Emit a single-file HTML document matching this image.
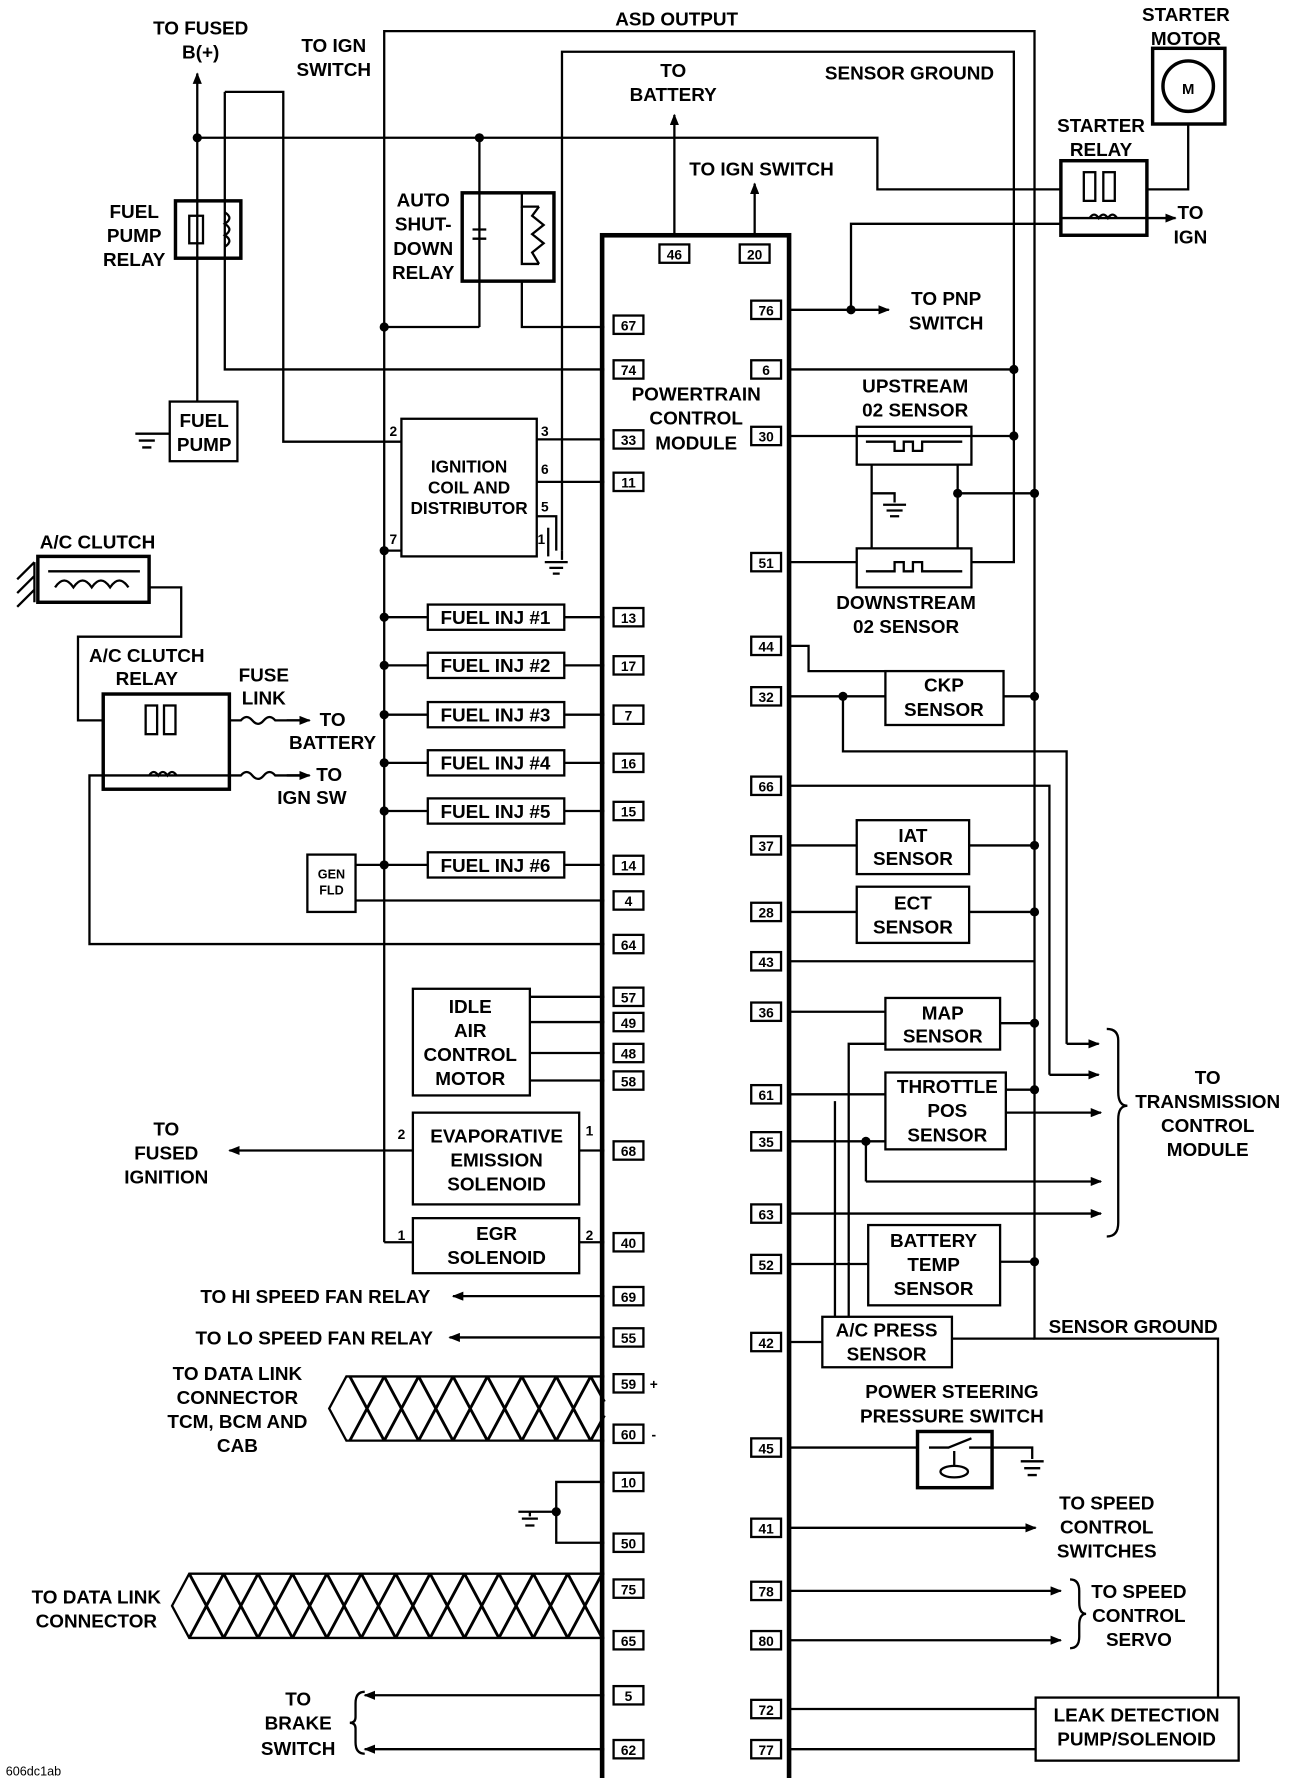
<!DOCTYPE html>
<html><head><meta charset="utf-8"><style>
html,body{margin:0;padding:0;background:#fff}
svg{display:block}
text{font-family:"Liberation Sans",sans-serif;font-weight:bold;fill:#000}
.t{font-size:16.5px;text-anchor:middle}
.p{font-size:12px;text-anchor:middle}
</style></head><body>
<svg width="1296" height="1778" viewBox="0 0 1130 1550" xmlns="http://www.w3.org/2000/svg">
<defs>
<marker id="a" markerWidth="10" markerHeight="8" refX="9" refY="4" orient="auto" markerUnits="userSpaceOnUse"><path d="M0,0 L10,4 L0,8 Z"/></marker>
</defs>
<g fill="none" stroke="#000" stroke-width="2">
<rect x="525" y="205" width="163" height="1353" stroke-width="4"/>
<polyline points="335,1083 335,27 902,27 902,1167 1062,1167 1062,1480"/>
<polyline points="490,480 490,45 884,45 884,490 847,490"/>
<line x1="172" y1="350" x2="172" y2="64" marker-end="url(#a)"/>
<polyline points="172,120 765,120 765,165 925,165"/>
<polyline points="196,80 247,80 247,385 350,385"/>
<polyline points="196,80 196,322 527,322"/>
<rect x="153" y="175" width="57" height="50" stroke-width="3"/>
<rect x="165" y="188" width="12" height="24"/><path d="M196,185 q8,5 0,10 q8,5 0,10 q8,5 0,10"/>
<rect x="148" y="350" width="59" height="52"/>
<path d="M148,378 H128 M118,378 h20 M121,384 h14 M124,390 h8"/>
<rect x="403" y="168" width="80" height="77" stroke-width="3"/>
<line x1="418" y1="120" x2="418" y2="285"/>
<polyline points="335,285 418,285"/>
<polyline points="455,168 455,180 470,180"/><polyline points="455,245 455,285 527,285"/>
<path d="M455,180 V230 H470 M470,180 l-6,8 l10,8 l-10,8 l10,8 l-10,8 l6,10 V230"/>
<path d="M412,200 h12 M412,208 h12"/>
<rect x="350" y="365" width="118" height="120"/>
<line x1="468" y1="383" x2="527" y2="383"/>
<line x1="468" y1="420" x2="527" y2="420"/>
<polyline points="468,450 485,450 485,480"/><line x1="478" y1="460" x2="478" y2="485"/>
<path d="M490,480 V488 M475,490 h20 M479,495 h12 M482,500 h6"/>
<line x1="335" y1="480" x2="350" y2="480"/>
<g>
<rect x="373" y="527" width="119" height="22"/><line x1="335" y1="538" x2="373" y2="538"/><line x1="492" y1="538" x2="527" y2="538"/>
<rect x="373" y="569" width="119" height="22"/><line x1="335" y1="580" x2="373" y2="580"/><line x1="492" y1="580" x2="527" y2="580"/>
<rect x="373" y="612" width="119" height="22"/><line x1="335" y1="623" x2="373" y2="623"/><line x1="492" y1="623" x2="527" y2="623"/>
<rect x="373" y="654" width="119" height="22"/><line x1="335" y1="665" x2="373" y2="665"/><line x1="492" y1="665" x2="527" y2="665"/>
<rect x="373" y="696" width="119" height="22"/><line x1="335" y1="707" x2="373" y2="707"/><line x1="492" y1="707" x2="527" y2="707"/>
<rect x="373" y="743" width="119" height="22"/><line x1="310" y1="754" x2="373" y2="754"/><line x1="492" y1="754" x2="527" y2="754"/>
</g>
<rect x="268" y="745" width="42" height="50"/>
<line x1="310" y1="785" x2="527" y2="785"/>
<rect x="33" y="485" width="97" height="40" stroke-width="3"/>
<path d="M42,498 h80 M48,512 q8,-12 16,0 q8,-12 16,0 q8,-12 16,0 q8,-12 16,0"/>
<path d="M30,490 l-15,15 M30,502 l-15,15 M30,514 l-15,15 M30,490 V525"/>
<polyline points="130,512 158,512 158,555 68,555 68,628 90,628"/>
<rect x="90" y="605" width="110" height="83" stroke-width="3"/>
<rect x="127" y="615" width="10" height="25"/><rect x="143" y="615" width="10" height="25"/>
<path d="M90,676 H200 M130,676 q4,-6 8,0 q4,-6 8,0 q4,-6 8,0"/>
<path d="M200,628 h10 q5,-6 10,0 q5,6 10,0 q5,-6 10,0 h25" /><line x1="250" y1="628" x2="270" y2="628" marker-end="url(#a)"/>
<path d="M200,676 h10 q5,-6 10,0 q5,6 10,0 q5,-6 10,0 h25"/><line x1="250" y1="676" x2="270" y2="676" marker-end="url(#a)"/>
<polyline points="90,676 78,676 78,823 527,823"/>
<rect x="360" y="862" width="102" height="93"/>
<line x1="462" y1="869" x2="527" y2="869"/><line x1="462" y1="891" x2="527" y2="891"/><line x1="462" y1="918" x2="527" y2="918"/><line x1="462" y1="942" x2="527" y2="942"/>
<rect x="360" y="970" width="145" height="80"/>
<line x1="505" y1="1003" x2="527" y2="1003"/>
<line x1="360" y1="1003" x2="200" y2="1003" marker-end="url(#a)"/>
<rect x="360" y="1062" width="145" height="48"/>
<line x1="335" y1="1083" x2="360" y2="1083"/><line x1="505" y1="1083" x2="527" y2="1083"/>
<line x1="527" y1="1130" x2="395" y2="1130" marker-end="url(#a)"/>
<line x1="527" y1="1166" x2="392" y2="1166" marker-end="url(#a)"/>
<polyline points="527,1292 485,1292 485,1345 527,1345"/>
<path d="M485,1318 H462 M452,1318 h20 M455,1324 h14 M458,1330 h8 M462,1318 V1322"/>
<line x1="527" y1="1478" x2="318" y2="1478" marker-end="url(#a)"/>
<line x1="527" y1="1525" x2="318" y2="1525" marker-end="url(#a)"/>
<path d="M318,1475 q-8,0 -8,10 v12 q0,5 -5,5 q5,0 5,5 v12 q0,10 8,10"/>
<line x1="588" y1="205" x2="588" y2="100" marker-end="url(#a)"/>
<line x1="658" y1="205" x2="658" y2="160" marker-end="url(#a)"/>
<rect x="1005" y="42" width="63" height="66" stroke-width="3"/>
<circle cx="1036" cy="75" r="22" stroke-width="3"/>
<polyline points="1036,108 1036,165 1000,165"/>
<rect x="925" y="140" width="75" height="65" stroke-width="3"/>
<rect x="945" y="150" width="10" height="25"/><rect x="962" y="150" width="10" height="25"/>
<path d="M925,190 H1000 M950,190 q4,-6 8,0 q4,-6 8,0 q4,-6 8,0"/>
<line x1="1000" y1="190" x2="1025" y2="190" marker-end="url(#a)"/>
<polyline points="925,195 742,195 742,270"/>
<line x1="688" y1="270" x2="775" y2="270" marker-end="url(#a)"/>
<line x1="688" y1="322" x2="884" y2="322"/>
<rect x="747" y="372" width="100" height="33"/>
<path d="M755,385 h25 v8 h8 v-8 h8 v8 h8 v-8 h35"/>
<line x1="688" y1="380" x2="884" y2="380"/>
<rect x="747" y="478" width="100" height="34"/>
<path d="M755,498 h25 v-8 h8 v8 h8 v-8 h8 v8 h35"/>
<line x1="688" y1="490" x2="747" y2="490"/>
<path d="M760,405 V478 M835,405 V478 M760,430 H780 V438 M770,440 h20 M773,445 h14 M776,450 h8 M835,430 H902"/>
<rect x="772" y="585" width="103" height="47"/>
<polyline points="688,563 705,563 705,585 772,585"/>
<line x1="688" y1="607" x2="772" y2="607"/>
<line x1="875" y1="607" x2="902" y2="607"/>
<polyline points="735,607 735,655 930,655 930,910"/><line x1="930" y1="910" x2="958" y2="910" marker-end="url(#a)"/>
<polyline points="688,685 915,685 915,937"/><line x1="915" y1="937" x2="958" y2="937" marker-end="url(#a)"/>
<rect x="747" y="715" width="98" height="47"/><line x1="688" y1="737" x2="747" y2="737"/><line x1="845" y1="737" x2="902" y2="737"/>
<rect x="747" y="773" width="98" height="49"/><line x1="688" y1="795" x2="747" y2="795"/><line x1="845" y1="795" x2="902" y2="795"/>
<line x1="688" y1="838" x2="902" y2="838"/>
<rect x="772" y="870" width="100" height="45"/><line x1="688" y1="882" x2="772" y2="882"/><line x1="872" y1="892" x2="902" y2="892"/>
<polyline points="772,910 740,910 740,1100"/>
<rect x="772" y="935" width="105" height="67"/>
<line x1="688" y1="954" x2="772" y2="954"/><line x1="877" y1="950" x2="902" y2="950"/>
<line x1="688" y1="995" x2="772" y2="995"/>
<line x1="877" y1="970" x2="960" y2="970" marker-end="url(#a)"/>
<polyline points="755,995 755,1030"/><line x1="755" y1="1030" x2="960" y2="1030" marker-end="url(#a)"/>
<line x1="688" y1="1058" x2="960" y2="1058" marker-end="url(#a)"/>
<path d="M965,897 q10,0 10,10 v45 q0,12 8,12 q-8,0 -8,12 v90 q0,12 -10,12"/>
<rect x="757" y="1068" width="115" height="70"/><line x1="688" y1="1102" x2="757" y2="1102"/><line x1="872" y1="1100" x2="902" y2="1100"/>
<polyline points="740,1100 740,1148"/>
<polyline points="728,1148 728,960"/>
<rect x="717" y="1148" width="113" height="44"/><line x1="688" y1="1170" x2="717" y2="1170"/><line x1="830" y1="1167" x2="902" y2="1167"/>
<rect x="800" y="1248" width="65" height="49" stroke-width="3"/>
<path d="M810,1262 H827 l20,-8 M845,1262 h20 M832,1265 v12 M820,1283 a12,5 0 1,0 24,0 a12,5 0 1,0 -24,0"/>
<line x1="688" y1="1262" x2="800" y2="1262"/>
<path d="M865,1262 H900 V1272 M890,1274 h20 M893,1280 h14 M896,1286 h8"/>
<line x1="688" y1="1332" x2="903" y2="1332" marker-end="url(#a)"/>
<line x1="688" y1="1387" x2="925" y2="1387" marker-end="url(#a)"/>
<line x1="688" y1="1430" x2="925" y2="1430" marker-end="url(#a)"/>
<path d="M933,1377 q8,0 8,10 v10 q0,10 6,10 q-6,0 -6,10 v10 q0,10 -8,10"/>
<rect x="903" y="1480" width="177" height="55"/>
<line x1="688" y1="1490" x2="903" y2="1490"/><line x1="688" y1="1525" x2="903" y2="1525"/>
</g>
<g fill="none" stroke="#000" stroke-width="2">
<path d="M527,1200 H302 L287,1228 L302,1256 H527"/>
<path d="M527,1372 H165 L150,1400 L165,1428 H527"/>
</g>
<g stroke="#000" stroke-width="2.5">
<path d="M305,1200 L335,1256 M335,1200 L365,1256 M365,1200 L395,1256 M395,1200 L425,1256 M425,1200 L455,1256 M455,1200 L485,1256 M485,1200 L515,1256 M515,1200 L527,1222 M305,1256 L335,1200 M335,1256 L365,1200 M365,1256 L395,1200 M395,1256 L425,1200 M425,1256 L455,1200 M455,1256 L485,1200 M485,1256 L515,1200 M515,1256 L527,1234"/>
<path d="M165,1372 L195,1428 M195,1372 L225,1428 M225,1372 L255,1428 M255,1372 L285,1428 M285,1372 L315,1428 M315,1372 L345,1428 M345,1372 L375,1428 M375,1372 L405,1428 M405,1372 L435,1428 M435,1372 L465,1428 M465,1372 L495,1428 M495,1372 L525,1428 M165,1428 L195,1372 M195,1428 L225,1372 M225,1428 L255,1372 M255,1428 L285,1372 M285,1428 L315,1372 M315,1428 L345,1372 M345,1428 L375,1372 M375,1428 L405,1372 M405,1428 L435,1372 M435,1428 L465,1372 M465,1428 L495,1372 M495,1428 L525,1372"/>
</g>
<g fill="#000">
<circle cx="172" cy="120" r="4"/><circle cx="418" cy="120" r="4"/><circle cx="335" cy="285" r="4"/><circle cx="335" cy="480" r="4"/>
<circle cx="335" cy="538" r="4"/><circle cx="335" cy="580" r="4"/><circle cx="335" cy="623" r="4"/><circle cx="335" cy="665" r="4"/><circle cx="335" cy="707" r="4"/><circle cx="335" cy="754" r="4"/>
<circle cx="485" cy="1318" r="4"/><circle cx="742" cy="270" r="4"/><circle cx="884" cy="322" r="4"/><circle cx="884" cy="380" r="4"/><circle cx="835" cy="430" r="4"/><circle cx="902" cy="430" r="4"/>
<circle cx="735" cy="607" r="4"/><circle cx="902" cy="607" r="4"/><circle cx="902" cy="737" r="4"/><circle cx="902" cy="795" r="4"/><circle cx="902" cy="892" r="4"/><circle cx="902" cy="950" r="4"/><circle cx="902" cy="1100" r="4"/><circle cx="755" cy="995" r="4"/>
</g>
<g fill="#fff" stroke="#000" stroke-width="2">
<rect x="575" y="213" width="26" height="16"/><rect x="645" y="213" width="26" height="16"/>
<rect x="535" y="275" width="26" height="16"/><rect x="535" y="314" width="26" height="16"/><rect x="535" y="375" width="26" height="16"/><rect x="535" y="412" width="26" height="16"/>
<rect x="535" y="530" width="26" height="16"/><rect x="535" y="572" width="26" height="16"/><rect x="535" y="615" width="26" height="16"/><rect x="535" y="657" width="26" height="16"/><rect x="535" y="699" width="26" height="16"/><rect x="535" y="746" width="26" height="16"/><rect x="535" y="777" width="26" height="16"/><rect x="535" y="815" width="26" height="16"/>
<rect x="535" y="861" width="26" height="16"/><rect x="535" y="883" width="26" height="16"/><rect x="535" y="910" width="26" height="16"/><rect x="535" y="934" width="26" height="16"/><rect x="535" y="995" width="26" height="16"/><rect x="535" y="1075" width="26" height="16"/><rect x="535" y="1122" width="26" height="16"/><rect x="535" y="1158" width="26" height="16"/><rect x="535" y="1198" width="26" height="16"/><rect x="535" y="1242" width="26" height="16"/><rect x="535" y="1284" width="26" height="16"/><rect x="535" y="1337" width="26" height="16"/><rect x="535" y="1377" width="26" height="16"/><rect x="535" y="1422" width="26" height="16"/><rect x="535" y="1470" width="26" height="16"/><rect x="535" y="1517" width="26" height="16"/>
<rect x="655" y="262" width="26" height="16"/><rect x="655" y="314" width="26" height="16"/><rect x="655" y="372" width="26" height="16"/><rect x="655" y="482" width="26" height="16"/><rect x="655" y="555" width="26" height="16"/><rect x="655" y="599" width="26" height="16"/><rect x="655" y="677" width="26" height="16"/><rect x="655" y="729" width="26" height="16"/><rect x="655" y="787" width="26" height="16"/><rect x="655" y="830" width="26" height="16"/><rect x="655" y="874" width="26" height="16"/><rect x="655" y="946" width="26" height="16"/><rect x="655" y="987" width="26" height="16"/><rect x="655" y="1050" width="26" height="16"/><rect x="655" y="1094" width="26" height="16"/><rect x="655" y="1162" width="26" height="16"/><rect x="655" y="1254" width="26" height="16"/><rect x="655" y="1324" width="26" height="16"/><rect x="655" y="1379" width="26" height="16"/><rect x="655" y="1422" width="26" height="16"/><rect x="655" y="1482" width="26" height="16"/><rect x="655" y="1517" width="26" height="16"/>
</g>
<g class="p">
<text class="p" x="588" y="226">46</text><text class="p" x="658" y="226">20</text>
<text class="p" x="548" y="288">67</text><text class="p" x="548" y="327">74</text><text class="p" x="548" y="388">33</text><text class="p" x="548" y="425">11</text>
<text class="p" x="548" y="543">13</text><text class="p" x="548" y="585">17</text><text class="p" x="548" y="628">7</text><text class="p" x="548" y="670">16</text><text class="p" x="548" y="712">15</text><text class="p" x="548" y="759">14</text><text class="p" x="548" y="790">4</text><text class="p" x="548" y="828">64</text>
<text class="p" x="548" y="874">57</text><text class="p" x="548" y="896">49</text><text class="p" x="548" y="923">48</text><text class="p" x="548" y="947">58</text><text class="p" x="548" y="1008">68</text><text class="p" x="548" y="1088">40</text><text class="p" x="548" y="1135">69</text><text class="p" x="548" y="1171">55</text><text class="p" x="548" y="1211">59</text><text class="p" x="548" y="1255">60</text><text class="p" x="548" y="1297">10</text><text class="p" x="548" y="1350">50</text><text class="p" x="548" y="1390">75</text><text class="p" x="548" y="1435">65</text><text class="p" x="548" y="1483">5</text><text class="p" x="548" y="1530">62</text>
<text class="p" x="668" y="275">76</text><text class="p" x="668" y="327">6</text><text class="p" x="668" y="385">30</text><text class="p" x="668" y="495">51</text><text class="p" x="668" y="568">44</text><text class="p" x="668" y="612">32</text><text class="p" x="668" y="690">66</text><text class="p" x="668" y="742">37</text><text class="p" x="668" y="800">28</text><text class="p" x="668" y="843">43</text><text class="p" x="668" y="887">36</text><text class="p" x="668" y="959">61</text><text class="p" x="668" y="1000">35</text><text class="p" x="668" y="1063">63</text><text class="p" x="668" y="1107">52</text><text class="p" x="668" y="1175">42</text><text class="p" x="668" y="1267">45</text><text class="p" x="668" y="1337">41</text><text class="p" x="668" y="1392">78</text><text class="p" x="668" y="1435">80</text><text class="p" x="668" y="1495">72</text><text class="p" x="668" y="1530">77</text>
<text class="p" x="570" y="1211">+</text><text class="p" x="570" y="1255">-</text>
<text class="p" x="343" y="380">2</text><text class="p" x="475" y="380">3</text><text class="p" x="475" y="413">6</text><text class="p" x="475" y="446">5</text><text class="p" x="343" y="474">7</text><text class="p" x="472" y="474">1</text>
<text class="p" x="350" y="993">2</text><text class="p" x="514" y="990">1</text><text class="p" x="350" y="1081">1</text><text class="p" x="514" y="1081">2</text>
</g>
<g class="t">
<text class="t" x="175" y="30">TO FUSED</text><text class="t" x="175" y="51">B(+)</text>
<text class="t" x="291" y="45">TO IGN</text><text class="t" x="291" y="66">SWITCH</text>
<text class="t" x="590" y="22">ASD OUTPUT</text>
<text class="t" x="587" y="67">TO</text><text class="t" x="587" y="88">BATTERY</text>
<text class="t" x="793" y="69">SENSOR GROUND</text>
<text class="t" x="664" y="153">TO IGN SWITCH</text>
<text class="t" x="1034" y="18">STARTER</text><text class="t" x="1034" y="39">MOTOR</text>
<text class="t" x="1036" y="82" style="font-size:13px">M</text>
<text class="t" x="960" y="115">STARTER</text><text class="t" x="960" y="136">RELAY</text>
<text class="t" x="1038" y="191">TO</text><text class="t" x="1038" y="212">IGN</text>
<text class="t" x="117" y="190">FUEL</text><text class="t" x="117" y="211">PUMP</text><text class="t" x="117" y="232">RELAY</text>
<text class="t" x="178" y="372">FUEL</text><text class="t" x="178" y="393">PUMP</text>
<text class="t" x="369" y="180">AUTO</text><text class="t" x="369" y="201">SHUT-</text><text class="t" x="369" y="222">DOWN</text><text class="t" x="369" y="243">RELAY</text>
<text class="t" x="825" y="266">TO PNP</text><text class="t" x="825" y="287">SWITCH</text>
<text class="t" x="607" y="349">POWERTRAIN</text><text class="t" x="607" y="370">CONTROL</text><text class="t" x="607" y="392">MODULE</text>
<text class="t" x="798" y="342">UPSTREAM</text><text class="t" x="798" y="363">02 SENSOR</text>
<text class="t" x="409" y="412" style="font-size:15px">IGNITION</text><text class="t" x="409" y="430" style="font-size:15px">COIL AND</text><text class="t" x="409" y="448" style="font-size:15px">DISTRIBUTOR</text>
<text class="t" x="790" y="531">DOWNSTREAM</text><text class="t" x="790" y="552">02 SENSOR</text>
<text class="t" x="85" y="478">A/C CLUTCH</text>
<text class="t" x="432" y="544">FUEL INJ #1</text><text class="t" x="432" y="586">FUEL INJ #2</text><text class="t" x="432" y="629">FUEL INJ #3</text><text class="t" x="432" y="671">FUEL INJ #4</text><text class="t" x="432" y="713">FUEL INJ #5</text><text class="t" x="432" y="760">FUEL INJ #6</text>
<text class="t" x="128" y="577">A/C CLUTCH</text><text class="t" x="128" y="597">RELAY</text>
<text class="t" x="230" y="594">FUSE</text><text class="t" x="230" y="614">LINK</text>
<text class="t" x="290" y="633">TO</text><text class="t" x="290" y="653">BATTERY</text>
<text class="t" x="287" y="681">TO</text><text class="t" x="272" y="701">IGN SW</text>
<text class="t" x="823" y="603">CKP</text><text class="t" x="823" y="624">SENSOR</text>
<text class="t" x="289" y="766" style="font-size:11px">GEN</text><text class="t" x="289" y="780" style="font-size:11px">FLD</text>
<text class="t" x="796" y="734">IAT</text><text class="t" x="796" y="754">SENSOR</text>
<text class="t" x="796" y="793">ECT</text><text class="t" x="796" y="814">SENSOR</text>
<text class="t" x="410" y="883">IDLE</text><text class="t" x="410" y="904">AIR</text><text class="t" x="410" y="925">CONTROL</text><text class="t" x="410" y="946">MOTOR</text>
<text class="t" x="822" y="889">MAP</text><text class="t" x="822" y="909">SENSOR</text>
<text class="t" x="826" y="953">THROTTLE</text><text class="t" x="826" y="974">POS</text><text class="t" x="826" y="995">SENSOR</text>
<text class="t" x="1053" y="945">TO</text><text class="t" x="1053" y="966">TRANSMISSION</text><text class="t" x="1053" y="987">CONTROL</text><text class="t" x="1053" y="1008">MODULE</text>
<text class="t" x="145" y="990">TO</text><text class="t" x="145" y="1011">FUSED</text><text class="t" x="145" y="1032">IGNITION</text>
<text class="t" x="433" y="996">EVAPORATIVE</text><text class="t" x="433" y="1017">EMISSION</text><text class="t" x="433" y="1038">SOLENOID</text>
<text class="t" x="433" y="1081">EGR</text><text class="t" x="433" y="1102">SOLENOID</text>
<text class="t" x="814" y="1087">BATTERY</text><text class="t" x="814" y="1108">TEMP</text><text class="t" x="814" y="1129">SENSOR</text>
<text class="t" x="275" y="1136">TO HI SPEED FAN RELAY</text>
<text class="t" x="274" y="1172">TO LO SPEED FAN RELAY</text>
<text class="t" x="773" y="1165">A/C PRESS</text><text class="t" x="773" y="1186">SENSOR</text>
<text class="t" x="988" y="1162">SENSOR GROUND</text>
<text class="t" x="207" y="1203">TO DATA LINK</text><text class="t" x="207" y="1224">CONNECTOR</text><text class="t" x="207" y="1245">TCM, BCM AND</text><text class="t" x="207" y="1266">CAB</text>
<text class="t" x="830" y="1219">POWER STEERING</text><text class="t" x="830" y="1240">PRESSURE SWITCH</text>
<text class="t" x="965" y="1316">TO SPEED</text><text class="t" x="965" y="1337">CONTROL</text><text class="t" x="965" y="1358">SWITCHES</text>
<text class="t" x="84" y="1398">TO DATA LINK</text><text class="t" x="84" y="1419">CONNECTOR</text>
<text class="t" x="993" y="1393">TO SPEED</text><text class="t" x="993" y="1414">CONTROL</text><text class="t" x="993" y="1435">SERVO</text>
<text class="t" x="260" y="1487">TO</text><text class="t" x="260" y="1508">BRAKE</text><text class="t" x="260" y="1530">SWITCH</text>
<text class="t" x="991" y="1501">LEAK DETECTION</text><text class="t" x="991" y="1522">PUMP/SOLENOID</text>
</g>
<text x="5" y="1548" style="font-size:11px;font-weight:normal">606dc1ab</text>
</svg>
</body></html>
